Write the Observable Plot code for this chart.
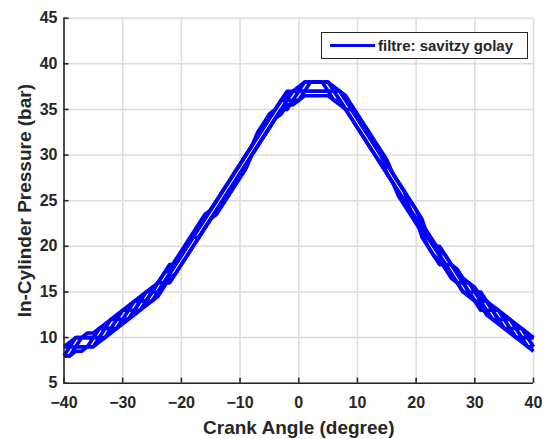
<!DOCTYPE html>
<html>
<head>
<meta charset="utf-8">
<script src="https://cdn.jsdelivr.net/npm/d3@7"></script>
<script src="https://cdn.jsdelivr.net/npm/@observablehq/plot@0.6"></script>
<style>
  body { margin: 0; background: #fff; }
  #wrap { position: relative; width: 546px; height: 439px; font-family: "Liberation Sans", Arial, Helvetica, sans-serif; }
  #legend { position: absolute; left: 321px; top: 32px; width: 207px; height: 27px; box-sizing: border-box; border: 1px solid #262626; background: #fff; }
  #legend .swatch { position: absolute; left: 8px; top: 10.5px; width: 45px; height: 3px; background: #0000ff; }
  #legend .label { position: absolute; left: 56px; top: 5px; font-size: 15px; line-height: 15px; font-weight: bold; color: #262626; white-space: nowrap; }
</style>
</head>
<body>
<div id="wrap"></div>
<script>
// ---- data ----
const angle = [-40,-39,-38,-37,-36,-35,-34,-33,-32,-31,
  -30,-29,-28,-27,-26,-25,-24,-23,-22,-21,
  -20,-19,-18,-17,-16,-15,-14,-13,-12,-11,
  -10,-9,-8,-7,-6,-5,-4,-3,-2,-1,
  0,1,2,3,4,5,6,7,8,9,
  10,11,12,13,14,15,16,17,18,19,
  20,21,22,23,24,25,26,27,28,29,
  30,31,32,33,34,35,36,37,38,39,
  40];

const cycleA = [8,8,9,9,9,9,10,10,11,11,
  12,12,13,13,14,14,15,16,16,17,
  18,19,20,21,22,23,24,25,26,27,
  28,29,30,31,32,33,34,35,35,36,
  36,37,37,37,37,37,36,36,35,34,
  33,32,31,30,29,28,27,26,25,24,
  23,21,20,19,18,18,17,16,15,15,
  14,13,13,12,12,11,11,10,10,9,
  9];

const cycleB = [8,9,9,9,9,10,10,11,11,11,
  12,12,13,14,14,15,15,16,17,18,
  19,20,21,21,22,23,24,25,26,27,
  28,29,30,31,32,33,34,35,36,36,
  37,37,37,37,37,37,37,36,35,35,
  34,33,32,31,30,28,27,26,25,24,
  23,22,21,20,19,18,17,16,16,15,
  14,14,13,13,12,11,11,10,10,10,
  9];

const cycleC = [9,9,9,10,10,10,11,11,11,12,
  12,13,13,14,14,15,16,16,17,18,
  19,20,21,22,23,24,25,26,27,28,
  29,30,31,32,33,34,35,36,36,37,
  37,37,38,38,38,37,37,37,36,35,
  34,33,32,31,30,29,28,27,26,24,
  23,22,21,20,19,18,18,17,16,15,
  15,14,14,13,12,12,11,11,10,10,
  10];

const cycleD = [9,9,10,10,10,10,11,11,12,12,
  13,13,14,14,15,15,16,17,18,18,
  19,20,21,22,23,24,25,26,27,28,
  29,30,31,32,33,34,35,36,37,37,
  37,38,38,38,38,38,37,37,36,35,
  34,33,32,31,30,29,28,27,26,25,
  24,23,21,20,20,19,18,17,16,16,
  15,15,14,13,13,12,12,11,11,10,
  10];

const cycleE = [8,8,8.5,8.5,9,9,9.5,10,10.5,11,
  11.5,12,12.5,13,13.5,14,14.5,15.5,16.5,17,
  18,19,20,21,22,23,23.5,24.5,25.5,26.5,
  27.5,28.5,30,31,32,33,34,34.5,35.5,35.5,
  36,36.5,36.5,36.5,36.5,36.5,36,35.5,35,34,
  33,32,31,30,29,28,27,25.5,24.5,23.5,
  22.5,21.5,20,19,18.5,17.5,16.5,16,15,14.5,
  14,13.5,12.5,12,11.5,11,10.5,10,9.5,9,
  8.5];

const cycleF = [9,9.5,10,10,10.5,10.5,11,11.5,12,12.5,
  13,13.5,14,14.5,15,15.5,16,17,17.5,18.5,
  19.5,20.5,21.5,22.5,23.5,24,25,26,27,28,
  29,30,31,32.5,33.5,34.5,35,36,36.5,37,
  37.5,38,38,38,38,38,37.5,37,36.5,35.5,
  34.5,33.5,32.5,31.5,30.5,29.5,28,27,26,25,
  24,22.5,21.5,20.5,19.5,19,18,17.5,16.5,16,
  15.5,14.5,14,13.5,13,12.5,12,11.5,11,10.5,
  10];

const cycleNames = ["A", "B", "C", "D", "E", "F"];
const cycles = [cycleA, cycleB, cycleC, cycleD, cycleE, cycleF];

const xTicks = [-40,-30,-20,-10,0,10,20,30,40];
const yTicks = [5,10,15,20,25,30,35,40,45];
const xDomain = [-40, 40];
const yDomain = [5, 45];

const xLabel = "Crank Angle (degree)";
const yLabel = "In-Cylinder Pressure (bar)";
const legendLabel = "filtre: savitzy golay";

// ---- build table ----
const rows = [];
cycles.forEach((c, k) => {
  c.forEach((p, i) => rows.push({angle: angle[i], pressure: p, cycle: cycleNames[k]}));
});

const ink = "#262626";
const gridColor = "#dcdcdc";
const W = 546, H = 439;
const mL = 63.5, mR = 13, mT = 17.7, mB = 56.3;
const tickLen = 5;

const chart = Plot.plot({
  width: W,
  height: H,
  marginLeft: mL,
  marginRight: mR,
  marginTop: mT,
  marginBottom: mB,
  style: {
    fontFamily: '"Liberation Sans", Arial, Helvetica, sans-serif',
    fontSize: "16px",
    fontWeight: "bold",
    color: ink,
    background: "#fff",
    overflow: "visible"
  },
  x: {domain: xDomain},
  y: {domain: yDomain},
  marks: [
    Plot.gridX(xTicks, {stroke: gridColor, strokeOpacity: 1, strokeWidth: 1.5}),
    Plot.gridY(yTicks, {stroke: gridColor, strokeOpacity: 1, strokeWidth: 1.5}),
    Plot.line(rows, {x: "angle", y: "pressure", z: "cycle", stroke: "#0000ff", strokeWidth: 3.6, strokeLinejoin: "round", strokeLinecap: "butt"}),
    Plot.ruleX([xDomain[0]], {stroke: ink, strokeWidth: 1.6}),
    Plot.ruleY([yDomain[0]], {stroke: ink, strokeWidth: 1.6}),
    Plot.tickX(xTicks, {x: d => d, stroke: ink, strokeWidth: 1.6, insetTop: (H - mT - mB) - tickLen}),
    Plot.tickY(yTicks, {y: d => d, stroke: ink, strokeWidth: 1.6, insetRight: (W - mL - mR) - tickLen}),
    Plot.axisX(xTicks, {tickSize: 0, tickPadding: 13, fontSize: 16, fontWeight: "bold", label: null}),
    Plot.axisY(yTicks, {tickSize: 0, tickPadding: 6.5, fontSize: 16, fontWeight: "bold", label: null}),
    Plot.text([xLabel], {text: d => d, frameAnchor: "bottom", dy: 44.3, textAnchor: "middle", lineAnchor: "middle", fontSize: 19, fontWeight: "bold", fill: ink}),
    Plot.text([yLabel], {text: d => d, frameAnchor: "left", dx: -39, rotate: -90, textAnchor: "middle", lineAnchor: "middle", fontSize: 19, fontWeight: "bold", fill: ink})
  ]
});

const wrap = document.getElementById("wrap");
wrap.appendChild(chart);

const legend = document.createElement("div");
legend.id = "legend";
const sw = document.createElement("span");
sw.className = "swatch";
const lb = document.createElement("span");
lb.className = "label";
lb.textContent = legendLabel;
legend.appendChild(sw);
legend.appendChild(lb);
wrap.appendChild(legend);
</script>
</body>
</html>
